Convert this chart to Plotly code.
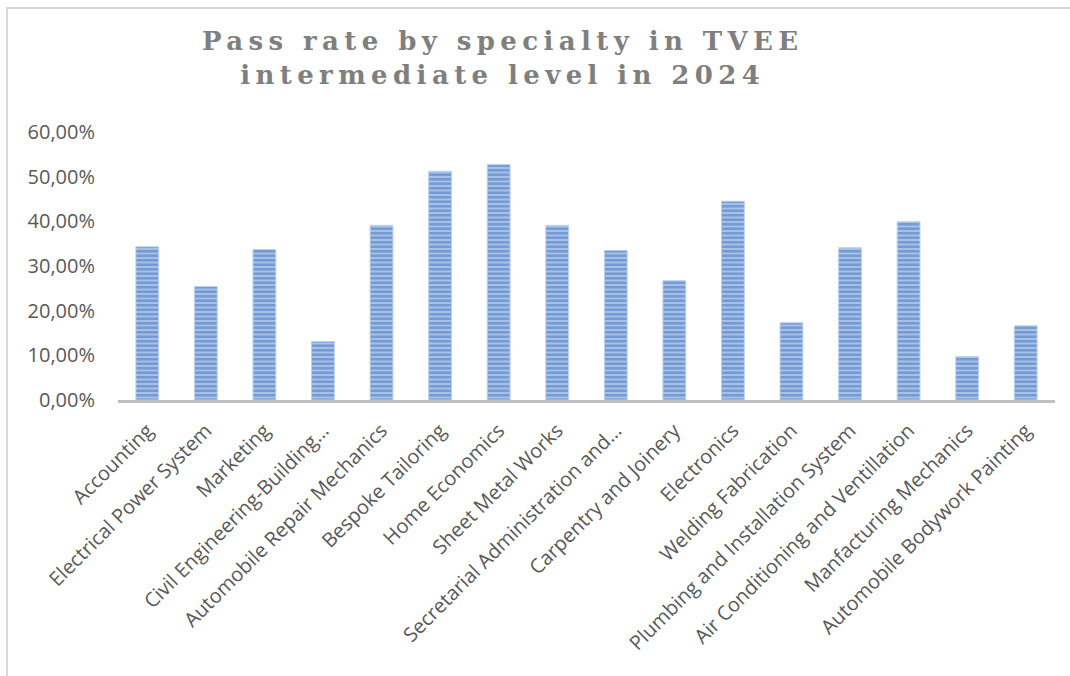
import plotly.graph_objects as go

categories = [
    "Accounting", "Electrical Power System", "Marketing", "Civil Engineering-Building…",
    "Automobile Repair Mechanics", "Bespoke Tailoring", "Home Economics", "Sheet Metal Works",
    "Secretarial Administration and…", "Carpentry and Joinery", "Electronics",
    "Welding Fabrication", "Plumbing and Installation System",
    "Air Conditioning and Ventillation", "Manfacturing Mechanics", "Automobile Bodywork Painting",
]
pass_rate = [0.343, 0.254, 0.337, 0.131, 0.391, 0.512, 0.527, 0.391,
             0.335, 0.267, 0.445, 0.173, 0.341, 0.399, 0.097, 0.166]
y_ticks = [0, 0.1, 0.2, 0.3, 0.4, 0.5, 0.6]

W, H = 1070, 676
ML, MR, MT, MB = 118, 15, 132, 276
pw, ph = W - ML - MR, H - MT - MB

def px_x(p):
    return (p - ML) / pw

def px_y(p):
    return (H - MB - p) / ph

fig = go.Figure()
fig.add_trace(go.Bar(
    x=categories, y=pass_rate, width=0.39,
    marker=dict(
        color="#a9c3e9",
        line=dict(color="#bcd0ee", width=1),
        pattern=dict(shape="-", fgcolor="#4474bb", bgcolor="#a9c3e9",
                     size=4.5, solidity=0.6, fillmode="overlay"),
    ),
    hoverinfo="skip",
))

title_l1 = '<span style="letter-spacing:5.4px">Pass rate by specialty in TVEE</span>'
title_l2 = '<span style="letter-spacing:5.4px">intermediate level in 2024</span>'
fig.add_annotation(
    x=px_x(502), y=px_y(58), xref="paper", yref="paper",
    text=title_l1 + "<br>" + title_l2, showarrow=False,
    font=dict(family="DejaVu Serif", size=26, color="#7f7f7f", weight="bold"),
    xanchor="center", yanchor="middle", align="center",
)

# outer chart border (left and top visible)
fig.add_shape(type="rect", xref="paper", yref="paper",
              x0=px_x(7), x1=px_x(W + 20), y0=px_y(H + 20), y1=px_y(8),
              line=dict(color="#d9d9d9", width=2), layer="below")

fig.update_layout(
    width=W, height=H,
    margin=dict(l=ML, r=MR, t=MT, b=MB, autoexpand=False),
    paper_bgcolor="white", plot_bgcolor="white",
    separators=", ",
    showlegend=False,
    bargap=0.61,
    xaxis=dict(
        type="category", tickangle=-45, showgrid=False,
        showline=True, linecolor="#bfbfbf", linewidth=3,
        ticks="", ticklabelstandoff=8,
        tickfont=dict(family="Open Sans", size=20, color="#595959"),
    ),
    yaxis=dict(
        range=[0, 0.6], tickvals=y_ticks, tickformat=".2%",
        showgrid=False, zeroline=False, showline=False, ticks="",
        ticklabelstandoff=22,
        tickfont=dict(family="Open Sans", size=20, color="#595959"),
    ),
)

fig.write_html("out.html")
